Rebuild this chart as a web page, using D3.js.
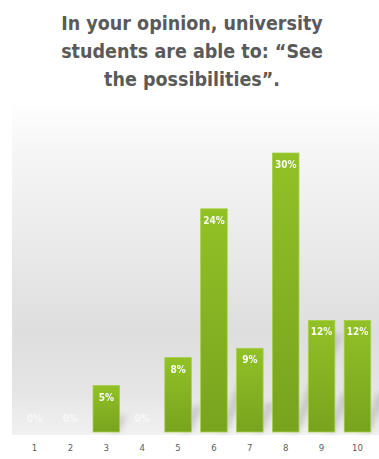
<!DOCTYPE html>
<html>
<head>
<meta charset="utf-8">
<script src="https://cdn.jsdelivr.net/npm/d3@7/dist/d3.min.js"></script>
<style>
  html, body { margin: 0; padding: 0; background: #ffffff; }
  svg { display: block; }
</style>
</head>
<body>
<div id="chart"></div>
<script>
// Survey answers on a 1–10 scale, share of respondents in percent
const titleLines = ["In your opinion, university", "students are able to: \u201cSee", "the possibilities\u201d."];
const scores = ["1", "2", "3", "4", "5", "6", "7", "8", "9", "10"];
const shares = [0, 0, 5, 0, 8, 24, 9, 30, 12, 12];

const W = 379, H = 459;
const baseY = 432;

const svg = d3.select("#chart").append("svg")
  .attr("width", W).attr("height", H);

const defs = svg.append("defs");

// soft grey backdrop behind the bars
const bg = defs.append("linearGradient").attr("id", "panelGrad")
  .attr("x1", 0).attr("y1", 0).attr("x2", 0).attr("y2", 1);
[[0, "#ffffff"], [0.15, "#f6f6f6"], [0.45, "#e9e9e9"], [0.7, "#dedede"], [0.88, "#e6e6e6"], [1, "#f1f1f1"]]
  .forEach(([o, c]) => bg.append("stop").attr("offset", o).attr("stop-color", c));

const barGrad = defs.append("linearGradient").attr("id", "barGrad")
  .attr("x1", 0).attr("y1", 0).attr("x2", 0).attr("y2", 1);
[[0, "#92c126"], [1, "#78a31f"]]
  .forEach(([o, c]) => barGrad.append("stop").attr("offset", o).attr("stop-color", c));

defs.append("filter").attr("id", "shadowBlur")
  .attr("x", "-50%").attr("y", "-50%").attr("width", "200%").attr("height", "200%")
  .append("feGaussianBlur").attr("stdDeviation", 3);

svg.append("rect")
  .attr("x", 12).attr("y", 100).attr("width", W - 12).attr("height", baseY + 3 - 100)
  .attr("fill", "url(#panelGrad)");

// title
svg.append("g").selectAll("text").data(titleLines).join("text")
  .attr("x", 192)
  .attr("y", (d, i) => 30 + i * 28)
  .attr("text-anchor", "middle")
  .attr("font-family", "'DejaVu Sans Condensed', 'DejaVu Sans', sans-serif")
  .attr("font-weight", "bold")
  .attr("font-size", 19.5)
  .attr("fill", "#5a5a5a")
  .text(d => d);

const x = d3.scaleBand()
  .domain(scores)
  .range([16.6, 375.4])
  .paddingInner(0.26)
  .paddingOuter(0.13);

const y = d3.scaleLinear()
  .domain([0, 30])
  .range([baseY, 153]);

const data = scores.map((s, i) => ({ score: s, value: shares[i] }));
const bars = data.filter(d => d.value > 0);

// cast shadows falling up and to the right
svg.append("g").selectAll("path").data(bars).join("path")
  .attr("d", d => {
    const x0 = x(d.score) + x.bandwidth() * 0.6, x1 = x(d.score) + x.bandwidth();
    const h = (baseY - y(d.value)) * 0.35;
    return `M${x0},${baseY} L${x1},${baseY} L${x1 + h * 0.45},${baseY - h} L${x0 + h * 0.45},${baseY - h} Z`;
  })
  .attr("fill", "#8a8a8a")
  .attr("opacity", 0.35)
  .attr("filter", "url(#shadowBlur)");

svg.append("g").selectAll("rect").data(bars).join("rect")
  .attr("x", d => x(d.score))
  .attr("y", d => y(d.value))
  .attr("width", x.bandwidth())
  .attr("height", d => baseY - y(d.value))
  .attr("fill", "url(#barGrad)")
  .attr("stroke", "#a6cf4a")
  .attr("stroke-width", 0.8);

// value labels inside the bars (zero values sit faintly on the baseline)
svg.append("g").selectAll("text").data(data).join("text")
  .attr("x", d => x(d.score) + x.bandwidth() / 2)
  .attr("y", d => d.value > 0 ? y(d.value) + 15 : baseY - 10)
  .attr("text-anchor", "middle")
  .attr("font-family", "'Liberation Sans Narrow', 'DejaVu Sans Condensed', sans-serif")
  .attr("font-weight", "bold")
  .attr("font-size", 10)
  .attr("fill", "#ffffff")
  .attr("opacity", d => d.value > 0 ? 0.95 : 0.6)
  .text(d => d.value + "%");

// category axis
const xAxis = d3.axisBottom(x).tickSize(0).tickPadding(0);
const axisG = svg.append("g")
  .attr("transform", `translate(0, ${baseY + 16})`)
  .call(xAxis);
axisG.select(".domain").remove();
axisG.selectAll("text")
  .attr("dy", "0.35em")
  .attr("font-family", "'Liberation Sans Narrow', 'DejaVu Sans Condensed', sans-serif")
  .attr("font-size", 9.5)
  .attr("fill", "#5e5e5e");
</script>
</body>
</html>
